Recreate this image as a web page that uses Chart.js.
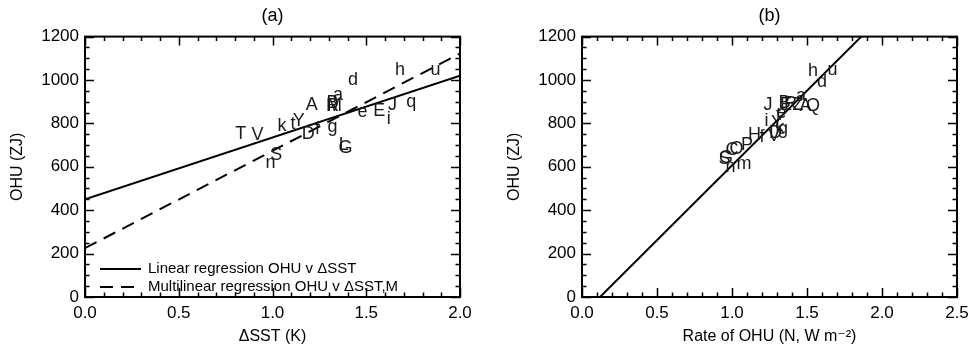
<!DOCTYPE html>
<html>
<head>
<meta charset="utf-8">
<script src="https://cdn.jsdelivr.net/npm/chart.js@4.4.1/dist/chart.umd.min.js"></script>
<style>
  html, body { margin: 0; padding: 0; background: #fff; overflow: hidden; }
  #wrap { position: relative; width: 969px; height: 351px; }
  .panel { position: absolute; top: 0; height: 351px; overflow: hidden; }
  #pa { left: 0; width: 485px; }
  #pb { left: 485px; width: 484px; }
</style>
</head>
<body>
<div id="wrap">
  <div class="panel" id="pa"><canvas id="chartA" width="485" height="351"></canvas></div>
  <div class="panel" id="pb"><canvas id="chartB" width="500" height="351"></canvas></div>
</div>
<script>
// panel (a): OHU against SST change, one letter per model
const sstLetters = ['T','V','k','t','Y','D','f','g','A','B','R','M','a','d','e','E','i','J','q','h','u','S','n','G','L'];
const sstValues  = [0.83,0.92,1.05,1.11,1.14,1.19,1.24,1.32,1.21,1.32,1.32,1.33,1.35,1.43,1.48,1.57,1.62,1.64,1.74,1.68,1.87,1.02,0.99,1.39,1.38];
const ohuA       = [750,748,790,795,810,750,774,784,886,892,882,878,933,998,852,855,818,886,898,1045,1048,655,618,686,700];

// regression lines in panel (a), read at the two ends of the axis
const sstLineX     = [0, 2];
const linearOHU    = [450, 1020];
const multiOHU     = [225, 1122];

// panel (b): OHU against rate of OHU
const rateLetters = ['h','u','d','J','i','Z','A','Q','a','R','E','B','e','t','k','g','V','D','Y','H','f','P','C','O','S','G','m','n'];
const rateValues  = [1.54,1.67,1.60,1.24,1.23,1.44,1.49,1.54,1.46,1.39,1.36,1.35,1.33,1.31,1.32,1.34,1.28,1.29,1.30,1.15,1.20,1.10,1.00,1.03,0.95,0.96,1.08,0.99];
const ohuB        = [1040,1045,990,886,812,884,880,880,924,890,885,893,850,838,780,772,742,755,800,748,738,700,678,682,636,640,612,600];

const rateLineX  = [0.12, 1.862];
const rateLineY  = [0, 1200];

const FONT = "'Liberation Sans', Arial, 'DejaVu Sans', sans-serif";

const toPoints = (xs, ys) => xs.map((x, i) => ({ x: x, y: ys[i] }));

// IDL-style frame: box round the plot, ticks pointing inwards on all four sides
const idlFrame = {
    id: 'idlFrame',
    afterDraw(chart, args, opts) {
        const { ctx, chartArea: a, scales: { x, y } } = chart;
        ctx.save();
        ctx.strokeStyle = '#000';
        ctx.lineWidth = 1.5;
        const tick = (v, step, major) => Math.abs(v / step - Math.round(v / step)) < 1e-6 ? major : major / 2;
        for (let v = x.min; v <= x.max + 1e-9; v += opts.xMinor) {
            const px = Math.round(x.getPixelForValue(v)) + 0.5;
            const len = tick(v, opts.xMajor, 9);
            ctx.beginPath();
            ctx.moveTo(px, a.bottom); ctx.lineTo(px, a.bottom - len);
            ctx.moveTo(px, a.top); ctx.lineTo(px, a.top + len);
            ctx.stroke();
        }
        for (let v = y.min; v <= y.max + 1e-9; v += opts.yMinor) {
            const py = Math.round(y.getPixelForValue(v)) + 0.5;
            const len = tick(v, opts.yMajor, 9);
            ctx.beginPath();
            ctx.moveTo(a.left, py); ctx.lineTo(a.left + len, py);
            ctx.moveTo(a.right, py); ctx.lineTo(a.right - len, py);
            ctx.stroke();
        }
        ctx.lineWidth = 2;
        ctx.strokeRect(a.left, a.top, a.right - a.left, a.bottom - a.top);
        ctx.restore();
    }
};

// model letters drawn at their scatter positions
const letterMarks = {
    id: 'letterMarks',
    afterDatasetsDraw(chart) {
        const { ctx } = chart;
        chart.data.datasets.forEach((ds, i) => {
            if (!ds.letters) return;
            const meta = chart.getDatasetMeta(i);
            ctx.save();
            ctx.font = '18px ' + FONT;
            ctx.fillStyle = '#1a1a1a';
            ctx.textAlign = 'center';
            ctx.textBaseline = 'middle';
            meta.data.forEach((pt, j) => ctx.fillText(ds.letters[j], pt.x, pt.y));
            ctx.restore();
        });
    }
};

// legend in the lower left corner of the plot
const cornerLegend = {
    id: 'cornerLegend',
    afterDraw(chart, args, opts) {
        if (!opts.show) return;
        const { ctx, chartArea: a } = chart;
        const items = chart.data.datasets.filter(ds => ds.inLegend);
        ctx.save();
        ctx.font = '15px ' + FONT;
        ctx.fillStyle = '#000';
        ctx.textBaseline = 'middle';
        items.forEach((ds, i) => {
            const yy = a.bottom - 28 + i * 18;
            ctx.strokeStyle = '#000';
            ctx.lineWidth = 2;
            ctx.setLineDash(ds.borderDash || []);
            ctx.beginPath();
            ctx.moveTo(a.left + 15, yy); ctx.lineTo(a.left + 56, yy);
            ctx.stroke();
            ctx.setLineDash([]);
            ctx.fillText(ds.label, a.left + 63, yy);
        });
        ctx.restore();
    }
};

function makeOptions(title, xTitle, xMax, yWidth, yTitlePad, padRight) {
    return {
        responsive: false,
        animation: false,
        layout: { padding: { top: 0, right: padRight, left: 0, bottom: 0 } },
        plugins: {
            legend: { display: false },
            tooltip: { enabled: false },
            title: { display: true, text: title, fullSize: false, color: '#000',
                     font: { family: FONT, size: 18, weight: 'normal' }, padding: { top: 5, bottom: 10 } },
            idlFrame: { xMajor: 0.5, xMinor: 0.1, yMajor: 200, yMinor: 50 },
            cornerLegend: { show: title === '(a)' }
        },
        scales: {
            x: {
                type: 'linear', min: 0, max: xMax,
                grid: { display: false, drawTicks: false }, border: { display: false },
                ticks: { stepSize: 0.5, padding: 6, color: '#000', font: { family: FONT, size: 17 },
                         callback: v => v.toFixed(1) },
                title: { display: true, text: xTitle, color: '#000', font: { family: FONT, size: 16 },
                         padding: { top: 0, bottom: 5 } },
                afterFit: s => { s.height = 54; }
            },
            y: {
                type: 'linear', min: 0, max: 1200,
                grid: { display: false, drawTicks: false }, border: { display: false },
                ticks: { stepSize: 200, padding: 6, color: '#000', font: { family: FONT, size: 17 },
                         callback: v => String(v) },
                title: { display: true, text: 'OHU (ZJ)', color: '#000', font: { family: FONT, size: 16 },
                         padding: { top: yTitlePad, bottom: 0 } },
                afterFit: s => { s.width = yWidth; }
            }
        }
    };
}

new Chart(document.getElementById('chartA'), {
    type: 'scatter',
    data: { datasets: [
        { label: 'models', letters: sstLetters, data: toPoints(sstValues, ohuA), pointRadius: 0 },
        { label: 'Linear regression OHU v \u0394SST', inLegend: true, data: toPoints(sstLineX, linearOHU),
          showLine: true, borderColor: '#000', borderWidth: 2, pointRadius: 0 },
        { label: 'Multilinear regression OHU v \u0394SST,M', inLegend: true, data: toPoints(sstLineX, multiOHU),
          showLine: true, borderColor: '#000', borderWidth: 2, borderDash: [13, 8], pointRadius: 0 }
    ]},
    options: makeOptions('(a)', '\u0394SST (K)', 2, 85, 8, 25),
    plugins: [idlFrame, letterMarks, cornerLegend]
});

new Chart(document.getElementById('chartB'), {
    type: 'scatter',
    data: { datasets: [
        { label: 'models', letters: rateLetters, data: toPoints(rateValues, ohuB), pointRadius: 0 },
        { label: 'fit', data: toPoints(rateLineX, rateLineY),
          showLine: true, borderColor: '#000', borderWidth: 2, pointRadius: 0 }
    ]},
    options: makeOptions('(b)', 'Rate of OHU (N, W m\u207B\u00B2)', 2.5, 97, 20, 28),
    plugins: [idlFrame, letterMarks, cornerLegend]
});
</script>
</body>
</html>
